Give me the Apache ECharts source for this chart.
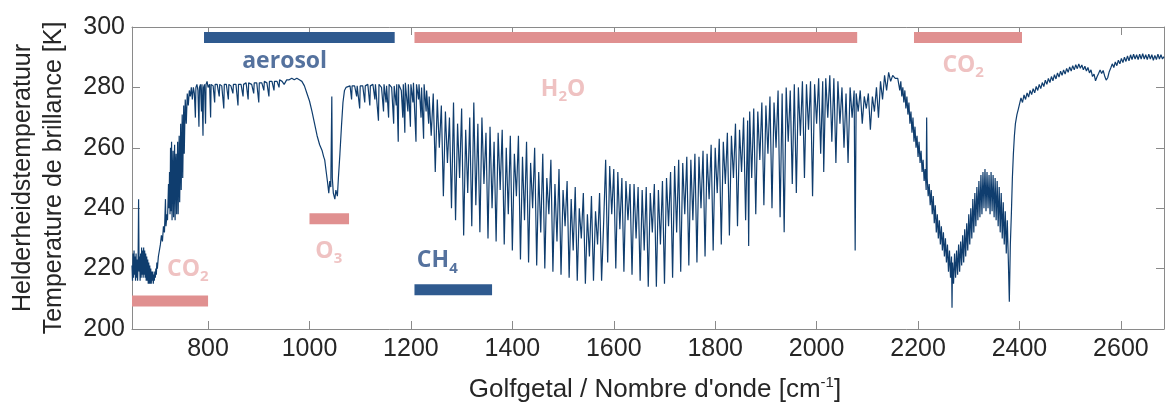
<!DOCTYPE html>
<html>
<head>
<meta charset="utf-8">
<style>
html,body{margin:0;padding:0;background:#ffffff;}
#chart{width:1165px;height:408px;}
</style>
<script src="https://cdn.jsdelivr.net/npm/echarts@6.0.0/dist/echarts.min.js"></script>
</head>
<body>
<div id="chart"></div>
<script>
// ---- axis ticks ----
const xTicks = [800, 1000, 1200, 1400, 1600, 1800, 2000, 2200, 2400, 2600];
const yTicks = [200, 220, 240, 260, 280, 300];

// ---- spectrum: [wavenumber cm-1, brightness temperature K] ----
const co2LongwaveBand = [[650,221],[651,216],[652,225],[653,217],[654,226],[655,218],[656,224],[657,216],[658,225],[659,217],[660,223],[661,216],[662,222],[663,243],[664,219],[665,224],[666,216],[667,225],[668,217],[669,227],[670,218],[671,226],[672,217],[673,227],[674,218],[675,226],[676,217],[677,225],[678,216],[679,224],[680,216],[681,223],[682,215],[683,222],[684,215],[685,221],[686,215],[687,220],[688,215],[689,219],[690,216],[691,219],[692,215],[693,218],[694,216],[695,219],[696,217],[697,220],[698,218],[699,222],[700,220],[702,224],[704,226],[706,228],[708,231],[710,229],[712,234],[714,232],[716,243],[717,234],[719,238],[720,236],[722,248],[723,240],[724,252],[725,238],[726,260],[727,239],[728,262],[729,236],[730,250],[731,259],[732,237],[734,261],[735,236],[736,255],[737,258],[738,238],[740,262],[741,238],[743,264],[744,242],[746,268],[747,246],[749,271],[750,250],[752,274],[753,258],[755,276],[757,268],[759,278],[761,274],[763,279],[765,277],[767,280],[769,276],[771,280],[773,278],[775,270],[776,280],[778,281],[780,279],[782,267],[783,280],[785,281],[787,272],[788,281],[790,264],[791,280],[793,281],[795,268],[796,281],[798,282]];

const atmosphericWindow = [[800,280],[803,281],[805,270],[806,281],[810,280.5],[813,275],[814,281],[818,281],[822,277],[823,281],[827,280.5],[831,273],[832,281],[836,281],[840,276],[841,281],[845,280.5],[849,278],[850,281],[855,281],[859,274],[860,281],[865,281],[869,277],[870,281],[875,281.5],[879,276],[880,281.5],[886,281],[890,278],[891,281.5],[896,281.5],[900,275],[901,281.5],[906,281.5],[910,279],[911,282],[916,281.5],[920,277],[921,282],[926,282],[930,279],[931,282],[936,282],[940,280],[941,282.5],[946,282],[950,281],[955,282.5],[960,282.5],[965,283],[970,282.5],[975,283],[980,282.5],[985,282],[990,280.5],[995,278],[1000,275.5],[1005,272],[1010,268],[1015,264],[1020,261],[1025,259],[1028,257],[1030,256],[1033,252],[1036,248],[1038,245],[1040,249],[1042,247],[1044,277],[1045,250],[1047,245],[1050,243],[1052,246],[1055,244],[1057,250],[1060,258],[1063,267],[1066,275],[1069,279],[1072,280],[1075,280],[1080,280.5],[1083,276],[1084,280.5],[1089,280.5],[1093,277],[1094,280.5],[1099,273],[1100,280.5],[1105,280.5],[1109,275],[1110,280.5],[1115,281],[1119,274],[1120,280.5],[1125,281],[1129,276],[1130,281],[1136,269],[1137,281],[1142,280],[1146,272],[1147,281],[1151,275],[1152,280.5],[1156,270],[1157,281],[1162,280],[1166,268],[1167,280.5],[1171,274],[1172,281],[1175,262],[1176,281],[1181,279],[1184,270],[1185,281],[1188,265],[1189,281.5],[1194,272],[1195,281],[1199,267],[1200,281],[1204,275],[1205,281.5],[1210,262],[1211,281],[1215,276],[1216,281],[1220,270],[1221,280],[1225,263],[1226,281],[1230,272],[1231,279],[1235,268]];

const waterVapourBand = [[1236,277],[1240,264],[1244,278],[1248,252],[1252,276],[1256,260],[1260,274],[1264,244],[1268,272],[1272,255],[1276,270],[1280,240],[1284,275],[1288,236],[1292,268],[1296,250],[1300,273],[1304,231],[1308,266],[1312,245],[1316,270],[1320,234],[1324,275],[1328,241],[1332,268],[1336,232],[1340,270],[1344,248],[1348,265],[1352,230],[1356,267],[1360,240],[1364,262],[1368,229],[1372,265],[1376,246],[1380,266],[1384,228],[1388,260],[1392,238],[1396,264],[1400,226],[1404,258],[1408,244],[1412,264],[1416,223],[1420,257],[1424,236],[1428,262],[1432,222],[1436,255],[1440,240],[1444,260],[1448,221],[1452,252],[1456,232],[1460,258],[1464,220],[1468,250],[1472,238],[1476,256],[1480,219],[1484,248],[1488,229],[1492,253],[1496,218],[1500,246],[1504,234],[1508,249],[1512,217],[1516,243],[1520,226],[1524,247],[1528,216],[1532,240],[1536,230],[1540,245],[1544,215],[1548,238],[1552,224],[1556,244],[1560,216],[1564,239],[1568,228],[1572,245],[1576,216],[1580,235],[1584,256],[1588,222],[1592,254],[1596,238],[1600,253],[1604,220],[1608,252],[1612,233],[1616,250],[1620,219],[1624,249],[1628,236],[1632,248],[1636,218],[1640,248],[1644,230],[1648,247],[1652,216],[1656,246],[1660,226],[1664,247],[1668,214],[1672,245],[1676,232],[1680,248],[1684,214],[1688,246],[1692,228],[1696,249],[1700,215],[1704,250],[1708,234],[1712,252],[1716,217],[1720,254],[1724,232],[1728,256],[1732,219],[1736,255],[1740,238],[1744,257],[1748,221],[1752,256],[1756,236],[1760,258],[1764,222],[1768,257],[1772,240],[1776,259],[1780,224],[1784,258],[1788,243],[1792,261],[1796,226],[1800,260],[1804,245],[1808,263],[1812,228],[1816,262],[1820,248],[1824,265],[1828,231],[1832,264],[1836,250],[1840,268],[1844,234],[1848,266],[1852,252],[1856,270],[1860,236],[1864,269],[1866,227.5],[1868,272],[1872,250],[1876,273],[1880,238],[1884,272],[1888,256],[1892,275],[1896,241],[1900,274],[1904,258],[1908,277],[1912,240],[1916,275],[1920,260],[1924,279],[1928,237],[1932,278],[1936,232],[1940,280],[1944,262],[1948,279],[1952,248],[1956,281],[1960,245],[1964,280],[1968,264],[1972,282],[1976,250],[1980,281],[1984,266],[1988,282],[1992,244],[1996,281],[2000,268],[2004,283],[2008,258],[2012,282],[2014,252],[2018,283],[2022,270],[2026,284],[2030,262],[2034,283],[2038,255],[2042,282],[2046,268],[2050,280],[2054,260],[2058,278],[2062,255],[2066,280],[2070,270],[2074,279],[2076,226],[2078,278],[2082,272],[2086,279],[2090,268],[2094,277],[2098,273],[2102,278],[2106,266],[2110,277],[2114,272],[2118,280],[2122,270],[2126,282],[2130,276],[2134,284],[2138,279],[2142,285],[2146,282],[2150,284],[2155,283],[2160,283]];

const co2ShortwaveBand = [[2162,283],[2164,279],[2166,282],[2168,277],[2170,280],[2172,275],[2174,279],[2176,273],[2178,277],[2180,271],[2182,275],[2184,268],[2186,272],[2188,265],[2190,270],[2192,262],[2194,267],[2196,260],[2198,264],[2200,257],[2202,262],[2204,255],[2206,259],[2208,252],[2210,256],[2212,249],[2214,253],[2216,246],[2217,270],[2218,250],[2220,244],[2222,248],[2224,241],[2226,246],[2228,238],[2230,244],[2232,235],[2234,241],[2236,232],[2238,238],[2240,230],[2242,236],[2244,228],[2246,234],[2248,226],[2250,232],[2252,224],[2254,230],[2256,222],[2258,228],[2260,219],[2262,226],[2264,217],[2266,224],[2267,207],[2268,222],[2270,215],[2272,225],[2274,217],[2276,226],[2278,218],[2280,228],[2282,219],[2284,229],[2286,221],[2288,231],[2290,222],[2292,233],[2294,224],[2296,235],[2298,226],[2300,238],[2302,228],[2304,240],[2306,230],[2308,243],[2310,232],[2312,245],[2314,234],[2316,247],[2318,236],[2320,249],[2322,237],[2324,251],[2326,238],[2328,252],[2330,240],[2332,253],[2334,239],[2336,252],[2338,240],[2340,251],[2342,238],[2344,252],[2346,239],[2348,251],[2350,237],[2352,250],[2354,236],[2356,249],[2358,234],[2360,247],[2362,232],[2364,245],[2366,230],[2368,242],[2370,228],[2372,239],[2374,225],[2376,236],[2378,223],[2380,209],[2382,228],[2384,238],[2386,250],[2388,258],[2390,264],[2392,268],[2395,271],[2398,273]];

const shortwaveWindow = [[2400,273],[2403,276.5],[2406,275],[2409,277.5],[2412,276],[2415,278.2],[2418,276.8],[2421,279],[2424,277.6],[2427,279.6],[2430,278.2],[2433,280.3],[2436,279],[2439,281],[2442,279.6],[2445,281.6],[2448,280.3],[2451,282.4],[2454,281],[2457,283],[2460,281.6],[2463,283.6],[2466,282.2],[2469,284.2],[2472,282.8],[2475,284.8],[2478,283.4],[2481,285.4],[2484,284],[2487,285.8],[2490,284.4],[2493,286.3],[2496,285],[2499,286.8],[2502,285.4],[2505,287.2],[2508,285.8],[2511,287.5],[2514,286.2],[2517,287.8],[2520,286.3],[2523,287.4],[2526,285.8],[2529,287],[2532,285.4],[2535,286.6],[2538,284.8],[2541,285.8],[2544,283.6],[2547,284.4],[2550,282.2],[2553,283.5],[2556,284.6],[2559,285.8],[2562,284.6],[2565,285.6],[2568,283.8],[2571,282.4],[2574,283.2],[2577,285.2],[2580,286.4],[2583,287.8],[2586,286.6],[2589,288.4],[2592,287.2],[2595,289],[2598,287.8],[2601,289.6],[2604,288.2],[2607,290],[2610,288.6],[2613,290.4],[2616,288.8],[2619,290.8],[2622,289.2],[2625,291],[2628,289.4],[2631,290.8],[2634,289.2],[2637,291],[2640,289.4],[2643,291.2],[2646,289.4],[2649,290.8],[2652,289.2],[2655,291],[2658,289.4],[2661,290.8],[2664,289],[2667,290.6],[2670,289.2],[2673,291],[2676,289.4],[2679,290.8],[2682,289.4],[2685,290.2]];

// ---- absorption band markers ----
const bandNames  = ['aerosol', 'H2O', 'CO2', 'CO2', 'O3', 'CH4'];
const bandKinds  = ['blue', 'pink', 'pink', 'pink', 'pink', 'blue'];
const bandStart  = [792, 1207, 2192, 650, 1000, 1207];
const bandEnd    = [1168, 2080, 2405, 800, 1078, 1360];
const bandLevel  = [296.5, 296.5, 296.5, 209.3, 236.5, 213];
const labelX     = [951, 1500, 2289, 760, 1038, 1252];
const labelY     = [288.6, 279.3, 287.2, 219.8, 225.8, 222.6];

// ---- styles ----
const FONT = '"Liberation Sans", Arial, Helvetica, sans-serif';
const LABEL_FONT = '"Open Sans", "Noto Sans", sans-serif';
const barColor = { blue: '#2f5a8f', pink: '#e09090' };
const textColor = { blue: '#2a4f86', pink: '#ebb3b3' };
const axisGray = '#8a8a8a';
const lineColor = '#0f3d6e';

const spectrum = [].concat(co2LongwaveBand, atmosphericWindow, waterVapourBand, co2ShortwaveBand, shortwaveWindow);

const chart = echarts.init(document.getElementById('chart'), null, { renderer: 'canvas' });

const X_MIN = 650, X_MAX = 2685;
const plain = v => String(v);

const series = [];
bandNames.forEach((name, i) => {
  series.push({
    type: 'line',
    name: name + '-band',
    data: [[bandStart[i], bandLevel[i]], [bandEnd[i], bandLevel[i]]],
    showSymbol: false,
    silent: true,
    lineStyle: { width: 11, color: barColor[bandKinds[i]], cap: 'butt' },
    z: 2
  });
});

series.push({
  type: 'line',
  name: 'spectrum',
  data: spectrum,
  showSymbol: false,
  sampling: null,
  lineStyle: { width: 1.2, color: lineColor },
  z: 3
});

series.push({
  type: 'scatter',
  name: 'labels',
  symbolSize: 0,
  silent: true,
  data: bandNames.map((name, i) => ({
    value: [labelX[i], labelY[i]],
    label: {
      show: true,
      position: 'inside',
      formatter: name.replace(/(\d)/g, '{s|$1}'),
      color: textColor[bandKinds[i]],
      fontFamily: LABEL_FONT,
      fontSize: 23,
      fontWeight: 700,
      lineHeight: 30,
      rich: {
        s: { fontSize: 15, fontWeight: 700, fontFamily: LABEL_FONT, color: textColor[bandKinds[i]], verticalAlign: 'bottom', lineHeight: 18 }
      }
    }
  })),
  z: 4
});

const option = {
  animation: false,
  backgroundColor: '#ffffff',
  grid: { left: 131, right: 1, top: 27, bottom: 78, containLabel: false },
  xAxis: [
    {
      type: 'value', min: X_MIN, max: X_MAX, position: 'bottom',
      axisLine: { show: true, lineStyle: { color: axisGray, width: 1 } },
      axisTick: { show: true, inside: true, length: 8, customValues: xTicks, lineStyle: { color: axisGray } },
      axisLabel: { show: true, customValues: xTicks, formatter: plain, margin: 8, color: '#262626', fontSize: 25, fontFamily: FONT },
      splitLine: { show: false },
      name: 'Golfgetal / Nombre d\'onde [cm{sup|-1}]',
      nameLocation: 'middle',
      nameGap: 46,
      nameTextStyle: {
        color: '#262626', fontSize: 26, fontFamily: FONT, padding: [0, 0, 0, 14],
        rich: { sup: { fontSize: 15, fontFamily: FONT, color: '#262626', verticalAlign: 'top', lineHeight: 30 } }
      }
    },
    {
      type: 'value', min: X_MIN, max: X_MAX, position: 'top',
      axisLine: { show: true, lineStyle: { color: axisGray, width: 1 } },
      axisTick: { show: true, inside: true, length: 8, customValues: xTicks, lineStyle: { color: axisGray } },
      axisLabel: { show: false },
      splitLine: { show: false }
    }
  ],
  yAxis: [
    {
      type: 'value', min: 200, max: 300, position: 'left',
      axisLine: { show: true, lineStyle: { color: axisGray, width: 1 } },
      axisTick: { show: true, inside: true, length: 8, customValues: yTicks, lineStyle: { color: axisGray } },
      axisLabel: { show: true, customValues: yTicks, formatter: plain, margin: 7, color: '#262626', fontSize: 25, fontFamily: FONT },
      splitLine: { show: false },
      name: 'Helderheidstemperatuur\nTemperature de brillance [K]',
      nameLocation: 'middle',
      nameRotate: 90,
      nameGap: 62,
      nameTextStyle: { color: '#262626', fontSize: 25, fontFamily: FONT, lineHeight: 31, align: 'center' }
    },
    {
      type: 'value', min: 200, max: 300, position: 'right',
      axisLine: { show: true, lineStyle: { color: axisGray, width: 1 } },
      axisTick: { show: true, inside: true, length: 8, customValues: yTicks, lineStyle: { color: axisGray } },
      axisLabel: { show: false },
      splitLine: { show: false }
    }
  ],
  series: series
};

chart.setOption(option);
</script>
</body>
</html>
